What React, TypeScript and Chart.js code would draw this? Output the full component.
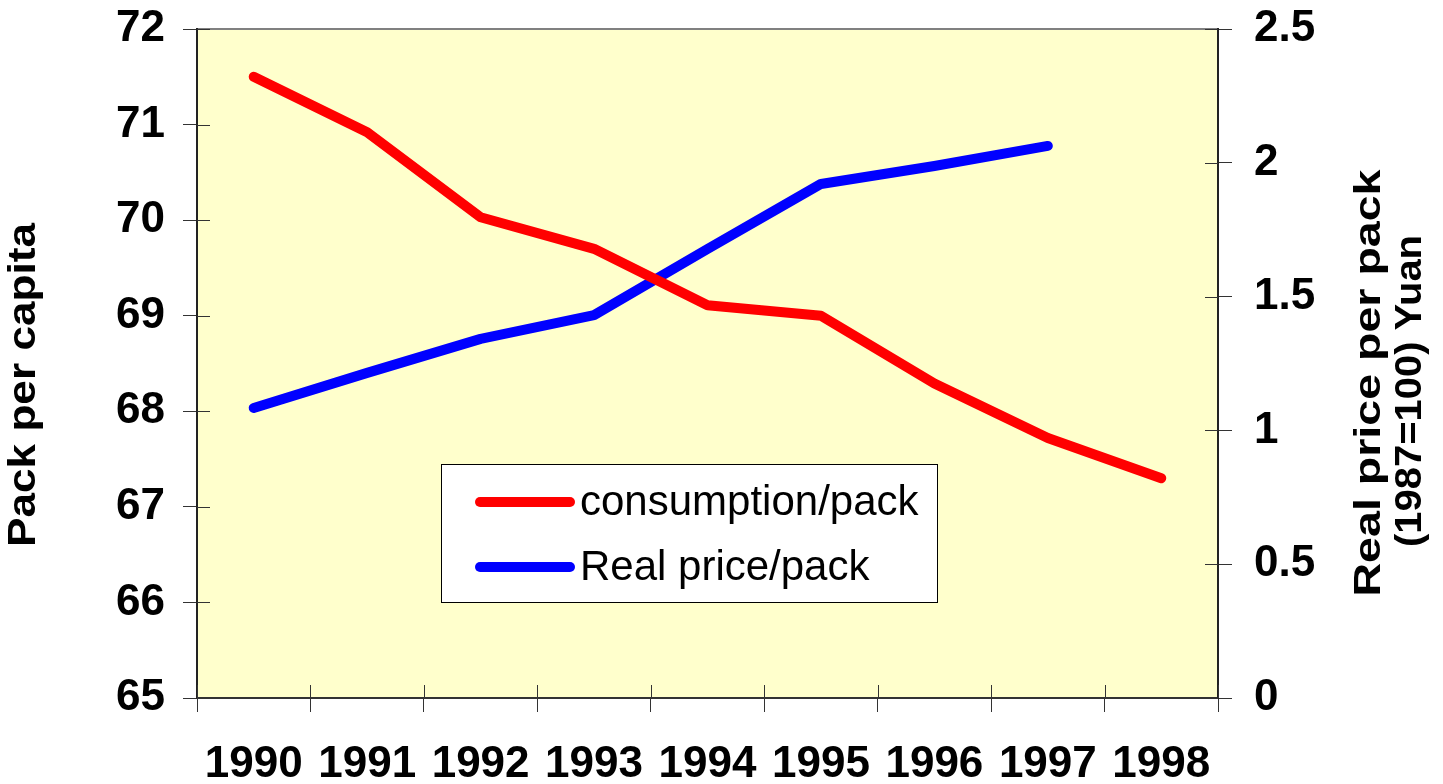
import React, { useEffect, useRef } from "react";
import { Chart, registerables } from "chart.js";

Chart.register(...registerables);

const years = ["1990", "1991", "1992", "1993", "1994", "1995", "1996", "1997", "1998"];
const consumption = [71.5, 70.92, 70.03, 69.7, 69.11, 69.0, 68.29, 67.72, 67.3];
const realPrice: (number | null)[] = [1.084, 1.215, 1.342, 1.431, 1.678, 1.921, 1.988, 2.063, null];
const leftTicks = [65, 66, 67, 68, 69, 70, 71, 72];
const rightTicks = [0, 0.5, 1, 1.5, 2, 2.5];
const leftTitle = "Pack per capita";
const rightTitleLines = ["Real price per pack", "(1987=100) Yuan"];
const seriesNames = ["consumption/pack", "Real price/pack"];

const FONT = '"Liberation Sans", Arial, sans-serif';

function drawStretched(ctx: any, text: string, baseX: number, centerY: number, length: number) {
  ctx.save();
  ctx.translate(baseX, centerY);
  ctx.rotate(-Math.PI / 2);
  const w = ctx.measureText(text).width;
  ctx.scale(length / w, 1);
  ctx.textAlign = "center";
  ctx.textBaseline = "alphabetic";
  ctx.fillText(text, 0, 0);
  ctx.restore();
}

const decorPlugin = {
  id: "decor",
  beforeDraw(chart: any) {
    const { ctx, chartArea } = chart;
    ctx.save();
    ctx.fillStyle = "#FFFFCC";
    ctx.fillRect(chartArea.left, chartArea.top, chartArea.right - chartArea.left, chartArea.bottom - chartArea.top);
    ctx.strokeStyle = "#808080";
    ctx.lineWidth = 2;
    ctx.beginPath();
    ctx.moveTo(chartArea.left, chartArea.top);
    ctx.lineTo(chartArea.right, chartArea.top);
    ctx.stroke();
    ctx.restore();
  },
  afterDraw(chart: any) {
    const { ctx, chartArea } = chart;
    const inner = 13;
    ctx.save();
    ctx.strokeStyle = "#333";
    ctx.lineWidth = 1;
    const yl = chart.scales.y;
    const yr = chart.scales.y1;
    const x = chart.scales.x;
    ctx.beginPath();
    yl.ticks.forEach((t: any) => {
      const py = Math.round(yl.getPixelForValue(t.value)) + 0.5;
      ctx.moveTo(chartArea.left, py);
      ctx.lineTo(chartArea.left + inner, py);
    });
    yr.ticks.forEach((t: any) => {
      const py = Math.round(yr.getPixelForValue(t.value)) + 0.5;
      ctx.moveTo(chartArea.right, py);
      ctx.lineTo(chartArea.right - inner, py);
    });
    const n = years.length;
    for (let i = 0; i <= n; i++) {
      let px: number;
      if (i === 0) px = x.getPixelForValue(0) - (x.getPixelForValue(1) - x.getPixelForValue(0)) / 2;
      else if (i === n) px = x.getPixelForValue(n - 1) + (x.getPixelForValue(n - 1) - x.getPixelForValue(n - 2)) / 2;
      else px = (x.getPixelForValue(i - 1) + x.getPixelForValue(i)) / 2;
      px = Math.round(px) + 0.5;
      ctx.moveTo(px, chartArea.bottom);
      ctx.lineTo(px, chartArea.bottom - inner);
    }
    ctx.stroke();

    // axis titles
    ctx.fillStyle = "#000";
    ctx.font = `bold 38px ${FONT}`;
    drawStretched(ctx, leftTitle, 35, 385, 324);
    ctx.font = `bold 37px ${FONT}`;
    drawStretched(ctx, rightTitleLines[0], 1380, 383, 427);
    drawStretched(ctx, rightTitleLines[1], 1421, 391, 312);

    // legend
    const lx = 441, ly = 464, lw = 496, lh = 138;
    ctx.fillStyle = "#fff";
    ctx.fillRect(lx, ly, lw, lh);
    ctx.strokeStyle = "#000";
    ctx.lineWidth = 1;
    ctx.strokeRect(lx + 0.5, ly + 0.5, lw, lh);
    const rowsY = [502, 567];
    chart.data.datasets.forEach((ds: any, i: number) => {
      ctx.strokeStyle = ds.borderColor;
      ctx.lineWidth = 10;
      ctx.lineCap = "round";
      ctx.beginPath();
      ctx.moveTo(480, rowsY[i]);
      ctx.lineTo(570, rowsY[i]);
      ctx.stroke();
      ctx.fillStyle = "#000";
      ctx.font = `42px ${FONT}`;
      ctx.textAlign = "left";
      ctx.textBaseline = "middle";
      ctx.fillText(ds.label, 580, rowsY[i] + 1);
    });
    ctx.restore();
  },
};

const noVertPad = (s: any, width: number) => {
  s.width = width;
  s.paddingTop = 0;
  s.paddingBottom = 0;
};

export default function App() {
  const ref = useRef<HTMLCanvasElement | null>(null);
  useEffect(() => {
    if (!ref.current) return;
    const chart = new Chart(ref.current, {
      type: "line",
      data: {
        labels: years,
        datasets: [
          {
            label: seriesNames[0],
            data: consumption,
            borderColor: "#FF0000",
            backgroundColor: "#FF0000",
            borderWidth: 10,
            borderCapStyle: "round",
            borderJoinStyle: "round",
            pointRadius: 0,
            tension: 0,
            yAxisID: "y",
          },
          {
            label: seriesNames[1],
            data: realPrice,
            borderColor: "#0000FF",
            backgroundColor: "#0000FF",
            borderWidth: 10,
            borderCapStyle: "round",
            borderJoinStyle: "round",
            pointRadius: 0,
            tension: 0,
            spanGaps: false,
            yAxisID: "y1",
          },
        ],
      },
      options: {
        animation: false,
        responsive: true,
        maintainAspectRatio: false,
        layout: { padding: { top: 29, left: 0, right: 0, bottom: 0 } },
        plugins: { legend: { display: false }, tooltip: { enabled: false } },
        scales: {
          x: {
            type: "category",
            offset: true,
            grid: { offset: true, drawOnChartArea: false, drawTicks: true, tickLength: 14, color: "#333", lineWidth: 1 },
            border: { color: "#333", width: 2 },
            ticks: {
              autoSkip: false,
              maxRotation: 0,
              padding: 26,
              color: "#000",
              font: { family: FONT, size: 44, weight: "bold" },
            },
            afterFit: (s: any) => {
              s.height = 86;
              s.paddingLeft = 0;
              s.paddingRight = 0;
            },
          },
          y: {
            position: "left",
            min: 65,
            max: 72,
            afterBuildTicks: (s: any) => {
              s.ticks = leftTicks.map((v) => ({ value: v }));
            },
            grid: { drawOnChartArea: false, drawTicks: true, tickLength: 14, color: "#333", lineWidth: 1 },
            border: { color: "#222", width: 2 },
            ticks: {
              padding: 18,
              color: "#000",
              font: { family: FONT, size: 44, weight: "bold" },
            },
            afterFit: (s: any) => noVertPad(s, 197),
          },
          y1: {
            position: "right",
            min: 0,
            max: 2.5,
            afterBuildTicks: (s: any) => {
              s.ticks = rightTicks.map((v) => ({ value: v }));
            },
            grid: { drawOnChartArea: false, drawTicks: true, tickLength: 14, color: "#333", lineWidth: 1 },
            border: { color: "#222", width: 2 },
            ticks: {
              padding: 22,
              color: "#000",
              font: { family: FONT, size: 44, weight: "bold" },
              callback: (v: any) => String(v),
            },
            afterFit: (s: any) => noVertPad(s, 225),
          },
        },
      },
      plugins: [decorPlugin],
    } as any);
    return () => chart.destroy();
  }, []);
  return (
    <div style={{ position: "absolute", left: 0, top: 0, width: 1443, height: 784, background: "#fff" }}>
      <canvas ref={ref} />
    </div>
  );
}
